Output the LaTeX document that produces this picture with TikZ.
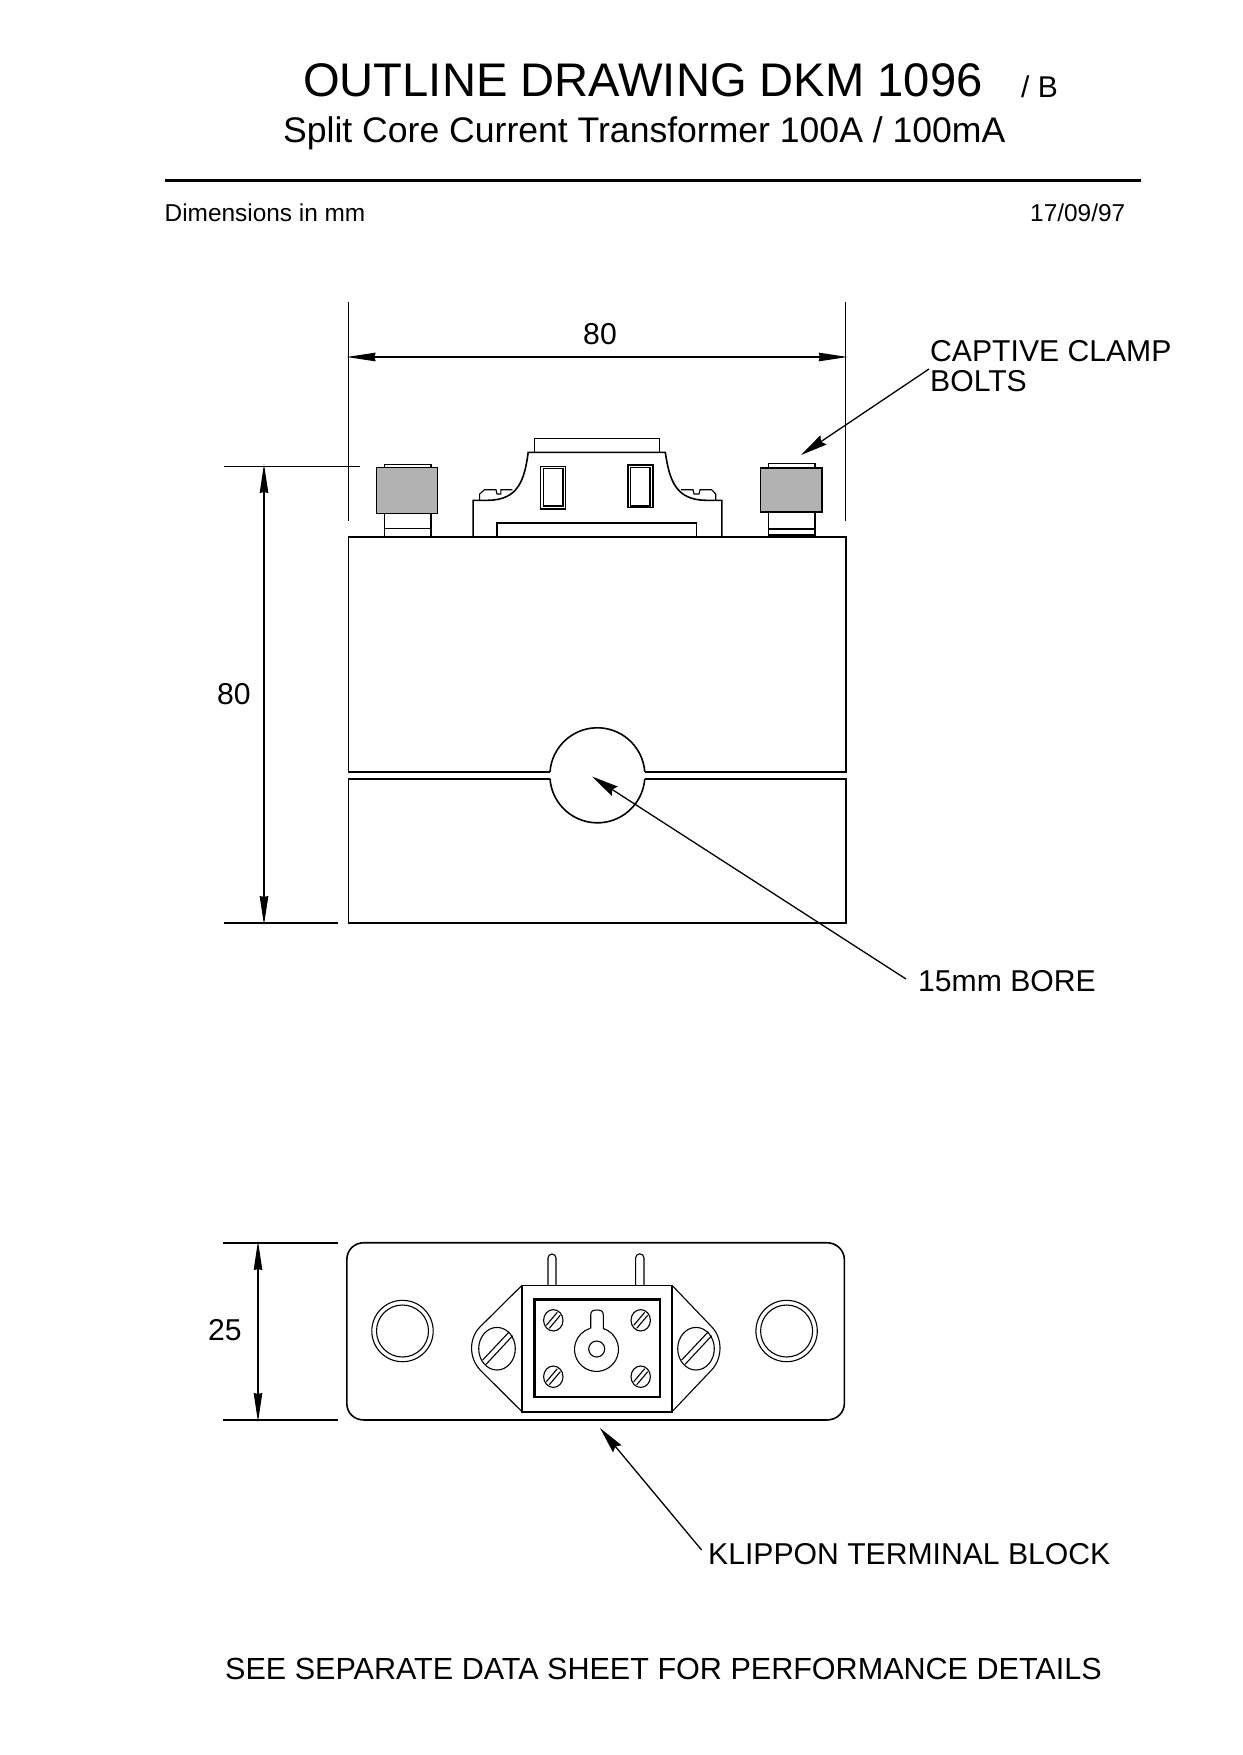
\documentclass[tikz,border=0pt]{standalone}
\usepackage{fontspec}
\setmainfont{Liberation Sans}
\usetikzlibrary{arrows.meta}
\tikzset{
    thinline/.style={line width=1.1pt},
    midline/.style={line width=1.6pt},
    heavyline/.style={line width=2.4pt},
    boltface/.style={fill={rgb,255:red,178;green,178;blue,178}},
    label30/.style={anchor=west, inner sep=0pt, font=\fontsize{30.15}{30}\selectfont},
    leader/.style={line width=1.3pt, -{Stealth[length=27pt,width=11pt,inset=3pt]}},
    dimline/.style={line width=1.3pt, {Stealth[length=29pt,width=8.5pt,inset=1pt]}-{Stealth[length=29pt,width=8.5pt,inset=1pt]}}
}
\begin{document}
\begin{tikzpicture}[x=1pt, y=-1pt]
    \useasboundingbox (0,0) rectangle (1242,1755);
    % heading
    \node[anchor=west, inner sep=0pt, font=\fontsize{47.15}{47}\selectfont] (title) at (303,80) {OUTLINE DRAWING DKM 1096};
    \node[anchor=west, inner sep=0pt, font=\fontsize{30}{30}\selectfont] (issue) at (1021,87) {/ B};
    \node[anchor=west, inner sep=0pt, font=\fontsize{35.57}{35}\selectfont] (subtitle) at (283,133.4) {Split Core Current Transformer 100A / 100mA};
    \coordinate (ruleL) at (164.5,180.5);
    \coordinate (ruleR) at (1141,180.5);
    \draw[line width=2.4pt] (ruleL) -- (ruleR);
    \node[anchor=west, inner sep=0pt, font=\fontsize{24.4}{24}\selectfont] (units) at (164.5,213) {Dimensions in mm};
    \node[anchor=west, inner sep=0pt, font=\fontsize{24.4}{24}\selectfont] (date) at (1030,213) {17/09/97};

    % front view, body
    \draw[midline] (550,771.8) -- (348.5,771.8) -- (348.5,536.7) -- (845.8,536.7) -- (845.8,771.8) -- (644.8,771.8);
    \draw[midline] (550,778.8) -- (348.5,778.8) -- (348.5,923) -- (845.8,923) -- (845.8,778.8) -- (644.8,778.8);
    \draw[midline] (550,771.8) arc[start angle=184.2, delta angle=171.6, radius=47.5];
    \draw[midline] (550,778.8) arc[start angle=175.8, delta angle=-171.6, radius=47.5];

    % clamp bolts
    \draw[midline] (384.3,536.7) -- (384.3,513) (431.2,536.7) -- (431.2,513) (384.3,528.3) -- (431.2,528.3);
    \draw[midline] (384.3,467) -- (384.3,464.3) -- (431.2,464.3) -- (431.2,467);
    \draw[thinline, boltface] (376.5,467.3) rectangle (437.3,513.3);
    \draw[midline] (768.4,536.7) -- (768.4,511.7) (815,536.7) -- (815,511.7) (768.4,529) -- (815,529) (768.4,535) -- (815,535);
    \draw[thinline] (768.4,467) -- (768.4,463.3) -- (815,463.3) -- (815,467);
    \draw[midline, boltface] (760.6,467.7) rectangle (822.1,511.7);

    % terminal block, side on
    \draw[thinline] (534.3,452.3) -- (534.3,438.3) -- (659.3,438.3) -- (659.3,452.3);
    \draw[midline] (473.1,536.7) -- (473.1,500.3) -- (488,500.3) .. controls (518.4,500) and (524.5,480) .. (528.2,452.3) -- (665.3,452.3) .. controls (669.4,480) and (675.5,500) .. (705.9,500.3) -- (721.8,500.3) -- (721.8,536.7);
    \draw[midline] (497.1,536.7) -- (497.1,523) -- (696.4,523) -- (696.4,536.7);
    \draw[thinline] (479.6,500) -- (479.6,494) -- (484.6,489.7) -- (496,489.7) -- (497,494) -- (500.8,494) -- (500.8,489.7) -- (512.3,489.7);
    \draw[thinline] (681.2,489.7) -- (693,489.7) -- (694,494) -- (699,494) -- (700,489.7) -- (711.6,489.7) -- (715.7,494) -- (715.7,500);
    \draw[thinline] (540.4,466.3) rectangle (565.3,509);
    \draw[midline] (543.4,468.3) rectangle (563,506);
    \draw[midline] (627.8,464.7) rectangle (652.9,507.3);
    \draw[midline] (630.6,467.3) rectangle (650.1,506);

    % plan view, plate
    \draw[midline] (364.3,1242.7) -- (826.5,1242.7) .. controls (836.5,1242.7) and (844.4,1250) .. (844.4,1260) -- (844.4,1403) .. controls (844.4,1413) and (836.5,1420) .. (826.5,1420) -- (364.3,1420) .. controls (354,1420) and (346.8,1413) .. (346.8,1403) -- (346.8,1260) .. controls (346.8,1250) and (354,1242.7) .. (364.3,1242.7) -- cycle;
    \foreach \hx in {402.5,786.6} {
        \draw[thinline] (\hx,1331) circle[radius=30.7];
        \draw[thinline] (\hx,1331) circle[radius=26];
    }

    % plan view, terminal block
    \draw[thinline] (548,1285.3) -- (548,1258) arc[start angle=180, delta angle=180, radius=4] -- (556,1285.3);
    \draw[thinline] (635.6,1285.3) -- (635.6,1258) arc[start angle=180, delta angle=180, radius=4.2] -- (644,1285.3);
    \draw[midline] (522,1285.3) rectangle (672,1411.7);
    \draw[heavyline] (534.3,1299.3) rectangle (659.7,1397);
    \draw[thinline] (522,1285.3) -- (480.2,1326.7) .. controls (468.7,1338) and (468.7,1358) .. (480.2,1370) -- (522,1411.7);
    \draw[thinline] (672,1285.3) -- (711.6,1326.7) .. controls (722.8,1338) and (722.8,1358) .. (711.6,1370) -- (672,1411.7);
    \foreach \ex in {497,696} {
        \draw[thinline] (\ex,1348.7) ellipse[x radius=18.3, y radius=21.3];
        \draw[thinline] (\ex-14.3,1360) -- (\ex+12.3,1331.7);
        \draw[thinline] (\ex-11,1364.4) -- (\ex+15.7,1335.7);
    }
    \foreach \sx in {553.3,640.7} {
        \foreach \sy in {1320.3,1376.7} {
            \draw[thinline] (\sx,\sy) ellipse[x radius=9.7, y radius=10.7];
            \draw[thinline] (\sx-7,\sy+5) -- (\sx+4,\sy-8);
            \draw[thinline] (\sx-4,\sy+8) -- (\sx+7,\sy-5);
        }
    }
    \draw[thinline] (590.7,1328.5) -- (590.7,1315) .. controls (590.7,1311) and (593,1310) .. (597,1310) .. controls (601,1310) and (603.3,1311) .. (603.3,1315) -- (603.3,1328.5) arc[start angle=-72, end angle=252, radius=22];
    \draw[thinline] (596.7,1349) circle[radius=8];

    % dimensions
    \coordinate (wL) at (346.5,357);
    \coordinate (wR) at (847.8,357);
    \coordinate (wLa) at (348.5,302);
    \coordinate (wLb) at (348.5,521);
    \coordinate (wRa) at (845.8,302);
    \coordinate (wRb) at (845.8,521);
    \draw[thinline] (wLa) -- (wLb);
    \draw[thinline] (wRa) -- (wRb);
    \draw[dimline] (wL) -- (wR);
    \node[label30, anchor=center] (widthval) at (600,334) {80};
    \coordinate (hT) at (264,464);
    \coordinate (hB) at (264,925);
    \coordinate (hTa) at (224,466.7);
    \coordinate (hTb) at (360,466.7);
    \coordinate (hBa) at (224,923);
    \coordinate (hBb) at (338,923);
    \draw[thinline] (hTa) -- (hTb);
    \draw[thinline] (hBa) -- (hBb);
    \draw[dimline] (hT) -- (hB);
    \node[label30, anchor=center] (heightval) at (234,694) {80};
    \coordinate (dT) at (258,1241);
    \coordinate (dB) at (258,1422);
    \coordinate (dTa) at (223,1243);
    \coordinate (dTb) at (338,1243);
    \coordinate (dBa) at (223,1420);
    \coordinate (dBb) at (338,1420);
    \draw[thinline] (dTa) -- (dTb);
    \draw[thinline] (dBa) -- (dBb);
    \draw[dimline] (dT) -- (dB);
    \node[label30, anchor=center] (depthval) at (225,1330) {25};

    % callouts
    \node[label30] (clamp1) at (930,351) {CAPTIVE CLAMP};
    \node[label30] (clamp2) at (930,381) {BOLTS};
    \coordinate (boltTail) at (929,369);
    \coordinate (boltTip) at (801,455);
    \draw[leader] (boltTail) -- (boltTip);
    \node[label30] (bore) at (918,981) {15mm BORE};
    \coordinate (boreTail) at (906,979);
    \coordinate (boreTip) at (592,776.5);
    \draw[leader] (boreTail) -- (boreTip);
    \node[label30] (klippon) at (708,1554) {KLIPPON TERMINAL BLOCK};
    \coordinate (blockTail) at (701.6,1550);
    \coordinate (blockTip) at (600,1428);
    \draw[leader] (blockTail) -- (blockTip);
    \node[anchor=west, inner sep=0pt, font=\fontsize{30.55}{30}\selectfont] (note) at (225,1669) {SEE SEPARATE DATA SHEET FOR PERFORMANCE DETAILS};
\end{tikzpicture}
\end{document}
